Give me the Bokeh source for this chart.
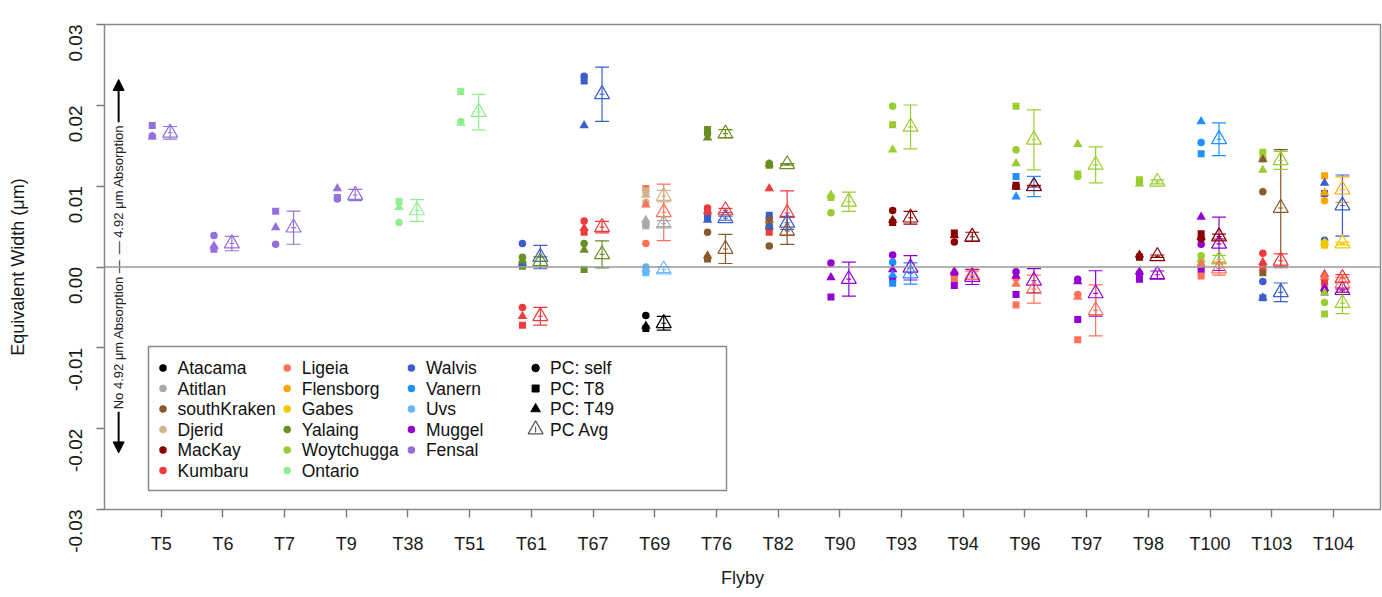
import numpy as np
from bokeh.plotting import figure
from bokeh.models import Range1d, FixedTicker, Span, Arrow, NormalHead, PrintfTickFormatter
from bokeh.embed import file_html
from bokeh.resources import INLINE
from bokeh.core.properties import value

flybys = ["T5", "T6", "T7", "T9", "T38", "T51", "T61", "T67", "T69", "T76",
          "T82", "T90", "T93", "T94", "T96", "T97", "T98", "T100", "T103", "T104"]

lakes = ["Atacama", "Atitlan", "southKraken", "Djerid", "MacKay", "Kumbaru",
         "Ligeia", "Flensborg", "Gabes", "Yalaing", "Woytchugga", "Ontario",
         "Walvis", "Vanern", "Uvs", "Muggel", "Fensal"]
lake_colors = ["#000000", "#A9A9A9", "#8B5A2B", "#D2B48C", "#8B0000", "#EE3B3B",
               "#FF7256", "#FFA500", "#EEC900", "#6B8E23", "#9ACD32", "#90EE90",
               "#3A5FCD", "#1E90FF", "#63B8FF", "#9400D3", "#9370DB"]

obs_flyby = ["T5", "T6", "T7", "T9", "T38", "T51",
             "T61", "T61", "T61",
             "T67", "T67", "T67",
             "T69", "T69", "T69", "T69", "T69",
             "T76", "T76", "T76", "T76",
             "T82", "T82", "T82", "T82",
             "T90", "T90",
             "T93", "T93", "T93", "T93",
             "T94", "T94", "T94",
             "T96", "T96", "T96", "T96", "T96",
             "T97", "T97", "T97",
             "T98", "T98", "T98",
             "T100", "T100", "T100", "T100", "T100",
             "T103", "T103", "T103", "T103",
             "T104", "T104", "T104", "T104", "T104", "T104", "T104"]
obs_lake = ["Fensal", "Fensal", "Fensal", "Fensal", "Ontario", "Ontario",
            "Walvis", "Yalaing", "Kumbaru",
            "Walvis", "Kumbaru", "Yalaing",
            "Ligeia", "Djerid", "Atitlan", "Uvs", "Atacama",
            "Yalaing", "Kumbaru", "Walvis", "southKraken",
            "Yalaing", "Kumbaru", "Walvis", "southKraken",
            "Woytchugga", "Muggel",
            "Woytchugga", "MacKay", "Muggel", "Vanern",
            "MacKay", "Ligeia", "Muggel",
            "Woytchugga", "Vanern", "MacKay", "Muggel", "Ligeia",
            "Woytchugga", "Muggel", "Ligeia",
            "Woytchugga", "MacKay", "Muggel",
            "Vanern", "Muggel", "MacKay", "Woytchugga", "Ligeia",
            "Woytchugga", "southKraken", "Kumbaru", "Walvis",
            "Flensborg", "Walvis", "Gabes", "Kumbaru", "Ligeia", "Muggel", "Woytchugga"]
pc_self = [0.0162, 0.0039, 0.0028, 0.0084, 0.0055, 0.0180,
           0.0029, 0.0012, -0.0050,
           0.0236, 0.0057, 0.0029,
           0.0029, 0.0080, 0.0052, 0.0000, -0.0060,
           0.0165, 0.0073, 0.0063, 0.0043,
           0.0128, 0.0060, 0.0050, 0.0026,
           0.0067, 0.0005,
           0.0199, 0.0070, 0.0015, 0.0006,
           0.0031, -0.0010, -0.0008,
           0.0145, 0.0100, 0.0100, -0.0006, -0.0014,
           0.0112, -0.0015, -0.0034,
           0.0105, 0.0013, -0.0008,
           0.0154, 0.0028, 0.0035, 0.0014, 0.0001,
           0.0134, 0.0093, 0.0017, -0.0018,
           0.0082, 0.0033, 0.0030, -0.0015, -0.0022, -0.0029, -0.0044]
pc_t8 = [0.0175, 0.0022, 0.0069, 0.0086, 0.0081, 0.0217,
         0.0003, 0.0001, -0.0072,
         0.0230, 0.0043, -0.0003,
         0.0097, 0.0094, 0.0051, -0.0007, -0.0076,
         0.0170, 0.0068, 0.0060, 0.0010,
         0.0126, 0.0043, 0.0064, 0.0050,
         0.0086, -0.0037,
         0.0176, 0.0055, -0.0015, -0.0020,
         0.0042, -0.0015, -0.0023,
         0.0199, 0.0112, 0.0101, -0.0034, -0.0047,
         0.0115, -0.0065, -0.0090,
         0.0108, 0.0012, -0.0015,
         0.0140, -0.0004, 0.0041, 0.0004, -0.0011,
         0.0142, -0.0007, 0.0000, -0.0038,
         0.0113, 0.0091, 0.0027, -0.0018, -0.0027, -0.0031, -0.0058]
pc_t49 = [0.0161, 0.0026, 0.0049, 0.0097, 0.0074, 0.0178,
          0.0005, 0.0008, -0.0061,
          0.0175, 0.0048, 0.0021,
          0.0077, 0.0089, 0.0058, -0.0003, -0.0073,
          0.0160, 0.0069, 0.0058, 0.0014,
          0.0127, 0.0097, 0.0050, 0.0058,
          0.0089, -0.0013,
          0.0145, 0.0058, -0.0003, -0.0010,
          0.0039, -0.0005, -0.0006,
          0.0128, 0.0087, 0.0099, -0.0011, -0.0021,
          0.0152, -0.0018, -0.0037,
          0.0103, 0.0015, -0.0006,
          0.0180, 0.0062, 0.0037, 0.0010, 0.0004,
          0.0120, 0.0133, 0.0006, -0.0038,
          0.0092, 0.0104, 0.0030, -0.0009, -0.0012, -0.0026, -0.0032]

y_ticks = [-0.03, -0.02, -0.01, 0.0, 0.01, 0.02, 0.03]
pc_labels = ["PC: self", "PC: T8", "PC: T49", "PC Avg"]

# ---------------- layout ----------------
W, H = 1382, 597
BL, BR, BT, BB = 104, 2, 24, 88
FW, FH = W - BL - BR, H - BT - BB
FONT = "Liberation Sans"

p = figure(width=W, height=H, output_backend="svg", toolbar_location=None,
           x_range=Range1d(0.081, 20.762), y_range=Range1d(-0.03, 0.03),
           min_border_left=BL, min_border_right=BR, min_border_top=BT,
           min_border_bottom=BB, background_fill_color="white",
           border_fill_color="white")
p.extra_x_ranges = {"px": Range1d(0, FW)}
p.extra_y_ranges = {"px": Range1d(0, FH)}
p.grid.visible = False
p.outline_line_color = "#8a8a8a"
p.outline_line_width = 1.5

for ax in (p.xaxis[0], p.yaxis[0]):
    ax.axis_line_color = None
    ax.major_tick_out = 8
    ax.major_tick_in = 0
    ax.minor_tick_line_color = None
    ax.major_tick_line_color = "#7a7a7a"
    ax.major_tick_line_width = 1.4
    ax.major_label_text_font = FONT
    ax.major_label_text_font_size = "18px"
    ax.major_label_text_color = "#1a1a1a"
    ax.axis_label_text_font = FONT
    ax.axis_label_text_font_size = "18px"
    ax.axis_label_text_font_style = "normal"
    ax.axis_label_text_color = "#1a1a1a"

p.xaxis.ticker = FixedTicker(ticks=list(range(1, len(flybys) + 1)))
p.xaxis.major_label_overrides = {i + 1: f for i, f in enumerate(flybys)}
p.xaxis.major_label_standoff = 16
p.xaxis.axis_label = "Flyby"
p.xaxis.axis_label_standoff = 11

p.yaxis.ticker = FixedTicker(ticks=y_ticks)
p.yaxis.formatter = PrintfTickFormatter(format="%.2f")
p.yaxis.major_label_orientation = np.pi / 2
p.yaxis.major_label_text_font_size = "19px"
p.yaxis.major_label_standoff = 21
p.yaxis.axis_label = "Equivalent Width (\u03bcm)"
p.yaxis.axis_label_standoff = 32

p.add_layout(Span(location=0, dimension="width", line_color="#9a9a9a", line_width=1.5))

# ---------------- data marks ----------------
fx = {f: i + 1 for i, f in enumerate(flybys)}
cmap = dict(zip(lakes, lake_colors))
OFF = 0.145
xs_pts = np.array([fx[f] for f in obs_flyby], dtype=float) - OFF
xs_avg = np.array([fx[f] for f in obs_flyby], dtype=float) + OFF
cols = [cmap[l] for l in obs_lake]
vals = np.array([pc_self, pc_t8, pc_t49])
mean = vals.mean(axis=0)
sd = vals.std(axis=0, ddof=1)

p.scatter(xs_pts, pc_self, marker="circle", size=7.5, color=cols, line_width=0)
p.scatter(xs_pts, pc_t8, marker="square", size=7, color=cols, line_width=0)
p.scatter(xs_pts, pc_t49, marker="triangle", size=9.5, color=cols, line_width=0)

p.segment(xs_avg, mean - sd, xs_avg, mean + sd, line_color=cols, line_width=1.2)
p.scatter(xs_avg, mean + sd, marker="dash", size=14, line_color=cols, line_width=1.2)
p.scatter(xs_avg, mean - sd, marker="dash", size=14, line_color=cols, line_width=1.2)
p.scatter(xs_avg, mean, marker="triangle", size=15, fill_color=None,
          line_color=cols, line_width=1.2)
p.scatter(xs_avg, mean, marker="dash", size=5, line_color=cols, line_width=1.1)

# ---------------- side annotation ----------------
AX = 0.31
p.text([AX], [0.0176], text=["\u2014 4.92 \u03bcm Absorption"], angle=np.pi / 2,
       text_align="right", text_baseline="middle", text_font=value(FONT),
       text_font_size="13px", text_color="#222222")
p.text([AX], [-0.0176], text=["No 4.92 \u03bcm Absorption \u2014"], angle=np.pi / 2,
       text_align="left", text_baseline="middle", text_font=value(FONT),
       text_font_size="13px", text_color="#222222")
p.add_layout(Arrow(end=NormalHead(size=11, fill_color="black", line_color="black"),
                   x_start=AX, y_start=0.0179, x_end=AX, y_end=0.0232,
                   line_width=2, line_color="black"))
p.add_layout(Arrow(end=NormalHead(size=11, fill_color="black", line_color="black"),
                   x_start=AX, y_start=-0.0179, x_end=AX, y_end=-0.0230,
                   line_width=2, line_color="black"))

# ---------------- legend (frame pixel coordinates) ----------------
FL, FB = BL, BT + FH  # page coords of frame left / bottom
def px(xp):
    return xp - FL
def py(yp):
    return FB - yp

row_y = [367.5, 388.0, 408.5, 429.0, 449.5, 470.0]
mark_x = [162.5, 286.7, 410.9, 535.1]
text_x = [177.0, 301.2, 425.4, 549.6]
LFS = "17.5px"

p.quad(left=[px(148)], right=[px(726)], bottom=[py(490)], top=[py(346)],
       x_range_name="px", y_range_name="px", fill_color="white",
       line_color="#8a8a8a", line_width=1.5)

groups = [lakes[0:6], lakes[6:12], lakes[12:17]]
for c, grp in enumerate(groups):
    n = len(grp)
    p.scatter([px(mark_x[c])] * n, [py(r) for r in row_y[:n]], marker="circle", size=7.5,
              color=[cmap[l] for l in grp], line_width=0,
              x_range_name="px", y_range_name="px")
    p.text([px(text_x[c])] * n, [py(r) for r in row_y[:n]], text=grp,
           text_font=value(FONT), text_font_size=LFS, text_baseline="middle",
           text_align="left", text_color="#111111", x_range_name="px", y_range_name="px")

lx = [px(mark_x[3])] * 4
ly = [py(r) for r in row_y[:4]]
p.scatter(lx[:1], ly[:1], marker="circle", size=7.5, color="black", x_range_name="px", y_range_name="px")
p.scatter(lx[1:2], ly[1:2], marker="square", size=7, color="black", x_range_name="px", y_range_name="px")
p.scatter(lx[2:3], ly[2:3], marker="triangle", size=9.5, color="black", x_range_name="px", y_range_name="px")
p.scatter(lx[3:4], ly[3:4], marker="triangle", size=15, fill_color=None, line_color="#555555",
          line_width=1.2, x_range_name="px", y_range_name="px")
p.scatter(lx[3:4], ly[3:4], marker="dash", size=6, angle=np.pi / 2, line_color="#555555",
          line_width=1.1, x_range_name="px", y_range_name="px")
p.text([px(text_x[3])] * 4, ly, text=pc_labels, text_font=value(FONT), text_font_size=LFS,
       text_baseline="middle", text_align="left", text_color="#111111",
       x_range_name="px", y_range_name="px")

open("out.html", "w").write(file_html(p, INLINE))
